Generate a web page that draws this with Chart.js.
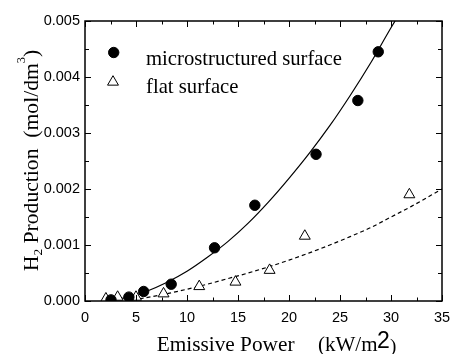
<!DOCTYPE html>
<html>
<head>
<meta charset="utf-8">
<script src="https://cdn.jsdelivr.net/npm/chart.js@4.4.0/dist/chart.umd.min.js"></script>
<style>
    html, body { margin: 0; padding: 0; background: #fff; }
    #wrap { width: 451px; height: 354px; }
</style>
</head>
<body>
<div id="wrap"><canvas id="myChart" width="451" height="354"></canvas></div>
<script>
// puntos medidos - superficie microestructurada
const microX = [2.55, 4.3, 5.75, 8.45, 12.7, 16.65, 22.65, 26.75, 28.75];
const microY = [0.00002, 0.00007, 0.00017, 0.0003, 0.00095, 0.00171, 0.00262, 0.00358, 0.00445];

// puntos medidos - superficie plana
const flatX = [2.05, 3.2, 5.0, 7.7, 11.2, 14.75, 18.1, 21.55, 31.8];
const flatY = [0.00004, 0.00007, 0.00007, 0.00013, 0.00026, 0.00034, 0.00055, 0.00116, 0.0019];

// curvas de ajuste
const fitMicroX = [2, 4, 6, 8, 10, 12, 14, 16, 18, 20, 22, 24, 26, 28, 30, 30.4];
const fitMicroY = [0.0, 0.00006, 0.00017, 0.00033, 0.00053, 0.00078, 0.00106, 0.00139, 0.00177,
                   0.00219, 0.00264, 0.00313, 0.00367, 0.00425, 0.00488, 0.005];
const fitFlatX = [4, 6, 8, 10, 12, 14, 16, 18, 20, 22, 24, 26, 28, 30, 32, 35];
const fitFlatY = [0.0, 0.00006, 0.00013, 0.00021, 0.0003, 0.0004, 0.0005, 0.00061, 0.00073,
                  0.00086, 0.001, 0.00115, 0.00131, 0.0015, 0.00169, 0.002];

// ejes
const xTicks = [0, 5, 10, 15, 20, 25, 30, 35];
const yTicks = [0.000, 0.001, 0.002, 0.003, 0.004, 0.005];

const legendLabels = ['microstructured surface', 'flat surface'];

const toPts = (xs, ys) => xs.map((x, i) => ({ x, y: ys[i] }));

const SERIF = '"Liberation Serif", "Times New Roman", serif';
const SANS = '"Liberation Sans", Arial, sans-serif';

// marco con marcas hacia dentro en los cuatro lados
const framePlugin = {
    id: 'frame',
    afterDraw(chart) {
        const { ctx, chartArea: a, scales } = chart;
        ctx.save();
        ctx.strokeStyle = '#000';
        ctx.lineWidth = 1.5;
        ctx.strokeRect(a.left, a.top, a.right - a.left, a.bottom - a.top);
        ctx.lineWidth = 1;
        ctx.beginPath();
        for (let v = 0; v <= 35; v += 2.5) {
            const px = Math.round(scales.x.getPixelForValue(v)) + 0.5;
            const len = v % 5 === 0 ? 6 : 3.5;
            ctx.moveTo(px, a.bottom); ctx.lineTo(px, a.bottom - len);
            ctx.moveTo(px, a.top); ctx.lineTo(px, a.top + len);
        }
        for (let k = 0; k <= 10; k++) {
            const py = Math.round(scales.y.getPixelForValue(k * 0.0005)) + 0.5;
            const len = k % 2 === 0 ? 6 : 4;
            ctx.moveTo(a.left, py); ctx.lineTo(a.left + len, py);
            ctx.moveTo(a.right, py); ctx.lineTo(a.right - len, py);
        }
        ctx.stroke();
        ctx.restore();
    }
};

// leyenda dentro del area y titulos con sub/superindices
const textPlugin = {
    id: 'texts',
    afterDraw(chart) {
        const { ctx } = chart;
        ctx.save();
        ctx.fillStyle = '#000';
        ctx.textBaseline = 'alphabetic';

        // leyenda
        const ds = chart.data.datasets;
        Chart.helpers.drawPoint(ctx, {
            pointStyle: ds[0].pointStyle, radius: ds[0].pointRadius,
            borderWidth: 1
        }, 113.7, 52.5);
        ctx.fillStyle = '#fff';
        ctx.strokeStyle = '#000';
        ctx.lineWidth = 1;
        Chart.helpers.drawPoint(ctx, {
            pointStyle: ds[1].pointStyle, radius: ds[1].pointRadius,
            borderWidth: 1
        }, 113, 82);
        ctx.fillStyle = '#000';
        ctx.font = '20.7px ' + SERIF;
        ctx.textAlign = 'left';
        ctx.fillText(legendLabels[0], 146, 65);
        ctx.fillText(legendLabels[1], 146, 93);

        // titulo eje x
        ctx.font = '21.3px ' + SERIF;
        ctx.fillText('Emissive Power', 156.7, 350.7);
        ctx.font = '21px ' + SERIF;
        ctx.fillText('(kW/m', 318, 351);
        ctx.font = '23px ' + SANS;
        ctx.fillText('2', 377, 348);
        ctx.font = '19px ' + SERIF;
        ctx.fillText(')', 390, 352);

        // titulo eje y (girado)
        const parts = [
            { t: 'H', f: '21px ' + SERIF, dy: 0 },
            { t: '2', f: '13px ' + SERIF, dy: 4 },
            { t: ' Production  (mol/dm', f: '21px ' + SERIF, dy: 0 },
            { t: '3', f: '12px ' + SERIF, dy: -13 },
            { t: ')', f: '21px ' + SERIF, dy: 0 }
        ];
        let total = 0;
        parts.forEach(p => { ctx.font = p.f; p.w = ctx.measureText(p.t).width; total += p.w; });
        const stretch = 1.03;
        ctx.translate(38, 160.5);
        ctx.rotate(-Math.PI / 2);
        ctx.scale(stretch, 1);
        let x = -total / 2;
        parts.forEach(p => { ctx.font = p.f; ctx.fillText(p.t, x, p.dy); x += p.w; });
        ctx.restore();
    }
};

const ctx = document.getElementById('myChart').getContext('2d');

const chart = new Chart(ctx, {
    type: 'scatter',
    data: {
        datasets: [
            {
                label: legendLabels[0],
                data: toPts(microX, microY),
                pointStyle: 'circle',
                pointRadius: 5.2,
                pointBackgroundColor: '#000',
                pointBorderColor: '#000',
                pointBorderWidth: 1,
                order: 1
            },
            {
                label: legendLabels[1],
                data: toPts(flatX, flatY),
                pointStyle: 'triangle',
                pointRadius: 6.3,
                pointBackgroundColor: '#fff',
                pointBorderColor: '#000',
                pointBorderWidth: 1,
                order: 2
            },
            {
                label: 'fit micro',
                data: toPts(fitMicroX, fitMicroY),
                showLine: true,
                pointRadius: 0,
                borderColor: '#000',
                borderWidth: 1.2,
                cubicInterpolationMode: 'monotone',
                order: 3
            },
            {
                label: 'fit flat',
                data: toPts(fitFlatX, fitFlatY),
                showLine: true,
                pointRadius: 0,
                borderColor: '#000',
                borderWidth: 1.2,
                borderDash: [4, 3],
                cubicInterpolationMode: 'monotone',
                order: 4
            }
        ]
    },
    options: {
        responsive: false,
        animation: false,
        layout: { padding: { top: 21, right: 9, left: 0, bottom: 0 } },
        plugins: {
            legend: { display: false },
            tooltip: { enabled: false }
        },
        scales: {
            x: {
                type: 'linear',
                min: 0,
                max: 35,
                afterFit: scale => {
                    scale.height = 53;
                    scale.paddingLeft = 0;
                    scale.paddingRight = 0;
                },
                afterBuildTicks: scale => { scale.ticks = xTicks.map(v => ({ value: v })); },
                grid: { display: false, drawTicks: false },
                border: { display: false },
                ticks: {
                    color: '#000',
                    padding: 8,
                    font: { family: SANS, size: 14.5 }
                }
            },
            y: {
                type: 'linear',
                min: 0,
                max: 0.005,
                afterFit: scale => {
                    scale.width = 85;
                    scale.paddingTop = 0;
                    scale.paddingBottom = 0;
                },
                afterBuildTicks: scale => { scale.ticks = yTicks.map(v => ({ value: v })); },
                grid: { display: false, drawTicks: false },
                border: { display: false },
                ticks: {
                    color: '#000',
                    padding: 5,
                    font: { family: SANS, size: 14.5 },
                    callback: value => value.toFixed(3)
                }
            }
        }
    },
    plugins: [framePlugin, textPlugin]
});
</script>
</body>
</html>
